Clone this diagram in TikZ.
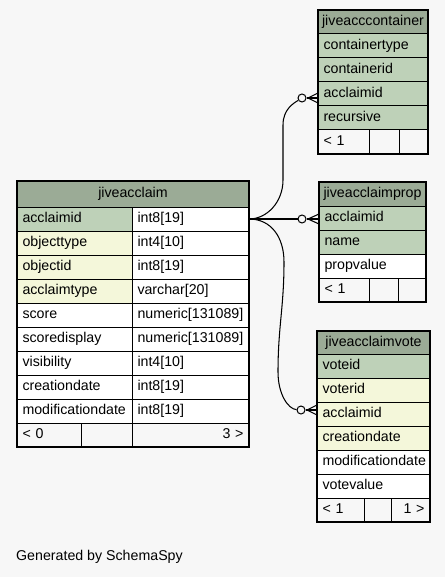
\documentclass[tikz,border=0pt]{standalone}
\usepackage{fontspec}
\setmainfont{Liberation Sans}
\newcommand\cellfont{\fontsize{14.2}{16}\selectfont}
\definecolor{hdr}{HTML}{9BAB96}
\definecolor{pk}{HTML}{BED1B8}
\definecolor{fk}{HTML}{F4F7DA}
\definecolor{bg}{HTML}{F7F7F7}
\tikzset{
  cell/.style={draw=black, line width=1pt, inner ysep=0pt, outer sep=0pt,
    anchor=north west, text height=10.5pt, text depth=3pt, font=\cellfont},
  odot/.style={circle, draw=black, fill=bg, line width=1pt, minimum size=8pt, inner sep=0pt},
  edge/.style={draw=black, line width=1.05pt},
  thickframe/.style={draw=black, line width=2.5pt},
  thinframe/.style={draw=black, line width=1.2pt}
}
% name, x, y, width, height, fill, align, text
\newcommand\tcell[8]{%
  \def\tcalign{#7}\def\tccenter{center}%
  \ifx\tcalign\tccenter\def\tcxs{3}\else\def\tcxs{5.5}\fi
  \pgfmathsetmacro\tcw{#4-2*\tcxs}%
  \node[cell, inner xsep=\tcxs pt, minimum width=#4pt, minimum height=#5pt, text width=\tcw pt, fill=#6, align=#7] (#1) at (#2,#3) {#8};}
\begin{document}
\begin{tikzpicture}[x=1pt,y=-1pt]
\fill[bg] (0,0) rectangle (445,577);
\useasboundingbox (0,0) rectangle (445,577);

% ---------- jiveacclaim ----------
\tcell{mH}{17}{181}{232}{26}{hdr}{center}{jiveacclaim}
\tcell{mAn}{17}{207}{115}{24}{pk}{left}{acclaimid}
\tcell{mAt}{132}{207}{117}{24}{white}{left}{int8[19]}
\tcell{mOn}{17}{231}{115}{24}{fk}{left}{objecttype}
\tcell{mOt}{132}{231}{117}{24}{white}{left}{int4[10]}
\tcell{mIn}{17}{255}{115}{24}{fk}{left}{objectid}
\tcell{mIt}{132}{255}{117}{24}{white}{left}{int8[19]}
\tcell{mTn}{17}{279}{115}{24}{fk}{left}{acclaimtype}
\tcell{mTt}{132}{279}{117}{24}{white}{left}{varchar[20]}
\tcell{mSn}{17}{303}{115}{24}{white}{left}{score}
\tcell{mSt}{132}{303}{117}{24}{white}{left}{numeric[131089]}
\tcell{mDn}{17}{327}{115}{24}{white}{left}{scoredisplay}
\tcell{mDt}{132}{327}{117}{24}{white}{left}{numeric[131089]}
\tcell{mVn}{17}{351}{115}{24}{white}{left}{visibility}
\tcell{mVt}{132}{351}{117}{24}{white}{left}{int4[10]}
\tcell{mCn}{17}{375}{115}{24}{white}{left}{creationdate}
\tcell{mCt}{132}{375}{117}{24}{white}{left}{int8[19]}
\tcell{mMn}{17}{399}{115}{24}{white}{left}{modificationdate}
\tcell{mMt}{132}{399}{117}{24}{white}{left}{int8[19]}
\tcell{mF1}{17}{423}{64}{24}{bg}{left}{< 0}
\tcell{mF2}{81}{423}{51}{24}{bg}{left}{}
\tcell{mF3}{132}{423}{117}{24}{bg}{right}{3 >}
\draw[thickframe] (mH.north west) rectangle (mF3.south east);

% ---------- jiveacccontainer ----------
\tcell{cH}{318}{10}{110}{24}{hdr}{center}{jiveacccontainer}
\tcell{cT}{318}{34}{110}{24}{pk}{left}{containertype}
\tcell{cI}{318}{58}{110}{24}{pk}{left}{containerid}
\tcell{cA}{318}{82}{110}{24}{pk}{left}{acclaimid}
\tcell{cR}{318}{106}{110}{24}{pk}{left}{recursive}
\tcell{cF1}{318}{130}{51}{24}{bg}{left}{< 1}
\tcell{cF2}{369}{130}{30}{24}{bg}{left}{}
\tcell{cF3}{399}{130}{29}{24}{bg}{left}{}
\draw[thinframe] (cH.north west) rectangle (cF3.south east);

% ---------- jiveacclaimprop ----------
\tcell{pH}{319}{182}{107}{24}{hdr}{center}{jiveacclaimprop}
\tcell{pA}{319}{206}{107}{24}{pk}{left}{acclaimid}
\tcell{pN}{319}{230}{107}{24}{pk}{left}{name}
\tcell{pV}{319}{254}{107}{24}{white}{left}{propvalue}
\tcell{pF1}{319}{278}{50}{24}{bg}{left}{< 1}
\tcell{pF2}{369}{278}{29}{24}{bg}{left}{}
\tcell{pF3}{398}{278}{28}{24}{bg}{left}{}
\draw[thinframe] (pH.north west) rectangle (pF3.south east);

% ---------- jiveacclaimvote ----------
\tcell{vH}{317}{331}{113}{23}{hdr}{center}{jiveacclaimvote}
\tcell{vV}{317}{354}{113}{24}{pk}{left}{voteid}
\tcell{vR}{317}{378}{113}{24}{fk}{left}{voterid}
\tcell{vA}{317}{402}{113}{24}{fk}{left}{acclaimid}
\tcell{vC}{317}{426}{113}{24}{fk}{left}{creationdate}
\tcell{vM}{317}{450}{113}{24}{white}{left}{modificationdate}
\tcell{vE}{317}{474}{113}{24}{white}{left}{votevalue}
\tcell{vF1}{317}{498}{47}{24}{bg}{left}{< 1}
\tcell{vF2}{364}{498}{27}{24}{bg}{left}{}
\tcell{vF3}{391}{498}{39}{24}{bg}{right}{1 >}
\draw[thinframe] (vH.north west) rectangle (vF3.south east);

% ---------- connectors ----------
\node[odot] (c1) at (302,98) {};
\node[odot] (c2) at (302,219) {};
\node[odot] (c3) at (301,410) {};
\coordinate (k1) at (283,180);
\coordinate (k2) at (283,125);
\coordinate (k3) at (284,262);
\coordinate (k4) at (278,372);

\draw[edge] (mAt.east) .. controls +(18,0) and +(0,22) .. (k1) -- (k2)
  .. controls +(0,-16) and +(-8,5) .. (c1);
\draw[edge] (mAt.east) -- (c2);
\draw[edge] (mAt.east) .. controls +(22,0) and +(0,-25) .. (k3)
  .. controls +(0,45) and +(0,-45) .. (k4)
  .. controls +(0,22) and +(-13,-1) .. (c3);

% crow's feet
\foreach \c/\t in {c1/cA, c2/pA, c3/vA}{
  \draw[edge] (\c.east) -- (\t.west |- \c.center);
  \draw[edge] ([xshift=1.5pt]\c.east) -- ([yshift=5pt]\t.west |- \c.center);
  \draw[edge] ([xshift=1.5pt]\c.east) -- ([yshift=-5pt]\t.west |- \c.center);
}

\node[font=\cellfont, anchor=west, inner sep=0pt] (gen) at (16,557) {Generated by SchemaSpy};
\end{tikzpicture}
\end{document}
